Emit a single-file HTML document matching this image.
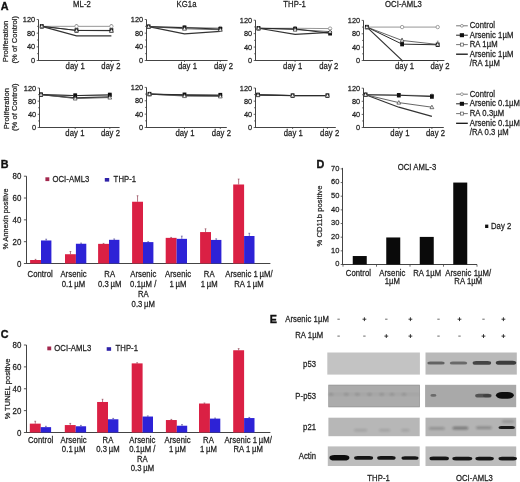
<!DOCTYPE html>
<html><head><meta charset="utf-8"><style>
html,body{margin:0;padding:0;background:#fff;width:520px;height:482px;overflow:hidden}
svg{display:block;will-change:transform}
text{font-family:"Liberation Sans", sans-serif;stroke:#2a2a2a;stroke-width:0.24px;paint-order:stroke;letter-spacing:0.08px}
</style></head><body>
<svg width="520" height="482" viewBox="0 0 520 482" font-family='"Liberation Sans", sans-serif'>
<defs><filter id="blur" x="-30%" y="-80%" width="160%" height="260%"><feGaussianBlur stdDeviation="0.55"/></filter><filter id="blur3" x="-30%" y="-100%" width="160%" height="300%"><feGaussianBlur stdDeviation="0.75"/></filter><filter id="blur2" x="-50%" y="-100%" width="200%" height="300%"><feGaussianBlur stdDeviation="1.0"/></filter></defs>
<rect width="520" height="482" fill="#fff"/>
<text transform="translate(0.80,9.50) scale(1,1.04)" font-size="10.8" text-anchor="start" font-weight="bold" fill="#111" style="stroke:#111;stroke-width:0.35px">A</text>
<text transform="translate(0.80,167.80) scale(1,1.04)" font-size="10.8" text-anchor="start" font-weight="bold" fill="#111" style="stroke:#111;stroke-width:0.35px">B</text>
<text transform="translate(0.80,338.00) scale(1,1.04)" font-size="10.8" text-anchor="start" font-weight="bold" fill="#111" style="stroke:#111;stroke-width:0.35px">C</text>
<text transform="translate(316.50,168.20) scale(1,1.04)" font-size="10.8" text-anchor="start" font-weight="bold" fill="#111" style="stroke:#111;stroke-width:0.35px">D</text>
<text transform="translate(269.80,322.80) scale(1,1.04)" font-size="10.8" text-anchor="start" font-weight="bold" fill="#111" style="stroke:#111;stroke-width:0.35px">E</text>
<line x1="38.50" y1="19.50" x2="38.50" y2="61.00" stroke="#444" stroke-width="1" />
<line x1="38.50" y1="60.50" x2="119.60" y2="60.50" stroke="#444" stroke-width="1" />
<line x1="36.70" y1="60.50" x2="38.50" y2="60.50" stroke="#444" stroke-width="0.8" />
<text transform="translate(35.30,63.10) scale(1,1.08)" font-size="7.4" text-anchor="end" font-weight="normal" fill="#1e1e1e" >0</text>
<line x1="37.00" y1="53.67" x2="38.50" y2="53.67" stroke="#444" stroke-width="0.7" />
<line x1="36.70" y1="46.83" x2="38.50" y2="46.83" stroke="#444" stroke-width="0.8" />
<text transform="translate(35.30,49.43) scale(1,1.08)" font-size="7.4" text-anchor="end" font-weight="normal" fill="#1e1e1e" >40</text>
<line x1="37.00" y1="40.00" x2="38.50" y2="40.00" stroke="#444" stroke-width="0.7" />
<line x1="36.70" y1="33.17" x2="38.50" y2="33.17" stroke="#444" stroke-width="0.8" />
<text transform="translate(35.30,35.77) scale(1,1.08)" font-size="7.4" text-anchor="end" font-weight="normal" fill="#1e1e1e" >80</text>
<line x1="37.00" y1="26.33" x2="38.50" y2="26.33" stroke="#444" stroke-width="0.7" />
<line x1="36.70" y1="19.50" x2="38.50" y2="19.50" stroke="#444" stroke-width="0.8" />
<text transform="translate(35.30,22.10) scale(1,1.08)" font-size="7.4" text-anchor="end" font-weight="normal" fill="#1e1e1e" >120</text>
<line x1="76.50" y1="60.50" x2="76.50" y2="62.00" stroke="#444" stroke-width="0.8" />
<line x1="111.40" y1="60.50" x2="111.40" y2="62.00" stroke="#444" stroke-width="0.8" />
<text transform="translate(75.20,69.10) scale(1,1.08)" font-size="7.7" text-anchor="middle" font-weight="normal" fill="#1e1e1e" >day 1</text>
<text transform="translate(110.90,69.10) scale(1,1.08)" font-size="7.7" text-anchor="middle" font-weight="normal" fill="#1e1e1e" >day 2</text>
<polyline points="41.80,26.33 76.50,26.33 111.40,26.33" fill="none" stroke="#8a8a8a" stroke-width="0.9"/>
<polyline points="41.80,26.33 76.50,35.90 111.40,35.90" fill="none" stroke="#333" stroke-width="1.2"/>
<polyline points="41.80,26.33 76.50,30.43 111.40,30.77" fill="none" stroke="#555" stroke-width="0.9"/>
<polyline points="41.80,26.33 76.50,30.43 111.40,30.43" fill="none" stroke="#2a2a2a" stroke-width="1.0"/>
<line x1="76.50" y1="26.33" x2="76.50" y2="24.63" stroke="#555" stroke-width="0.6" />
<line x1="75.60" y1="24.63" x2="77.40" y2="24.63" stroke="#555" stroke-width="0.5" />
<line x1="111.40" y1="26.33" x2="111.40" y2="24.63" stroke="#555" stroke-width="0.6" />
<line x1="110.50" y1="24.63" x2="112.30" y2="24.63" stroke="#555" stroke-width="0.5" />
<circle cx="41.80" cy="26.33" r="1.7" fill="#fff" stroke="#8a8a8a" stroke-width="0.8"/>
<circle cx="76.50" cy="26.33" r="1.7" fill="#fff" stroke="#8a8a8a" stroke-width="0.8"/>
<circle cx="111.40" cy="26.33" r="1.7" fill="#fff" stroke="#8a8a8a" stroke-width="0.8"/>
<rect x="39.90" y="24.13" width="3.8" height="4.4" fill="#111"/>
<rect x="74.60" y="28.23" width="3.8" height="4.4" fill="#111"/>
<rect x="109.50" y="28.23" width="3.8" height="4.4" fill="#111"/>
<polygon points="41.80,24.33 43.70,27.83 39.90,27.83" fill="#fff" stroke="#444" stroke-width="0.75"/>
<polygon points="76.50,28.43 78.40,31.93 74.60,31.93" fill="#fff" stroke="#444" stroke-width="0.75"/>
<polygon points="111.40,28.77 113.30,32.27 109.50,32.27" fill="#fff" stroke="#444" stroke-width="0.75"/>
<line x1="146.50" y1="19.50" x2="146.50" y2="61.00" stroke="#444" stroke-width="1" />
<line x1="146.50" y1="60.50" x2="227.60" y2="60.50" stroke="#444" stroke-width="1" />
<line x1="144.70" y1="60.50" x2="146.50" y2="60.50" stroke="#444" stroke-width="0.8" />
<text transform="translate(143.30,63.10) scale(1,1.08)" font-size="7.4" text-anchor="end" font-weight="normal" fill="#1e1e1e" >0</text>
<line x1="145.00" y1="53.67" x2="146.50" y2="53.67" stroke="#444" stroke-width="0.7" />
<line x1="144.70" y1="46.83" x2="146.50" y2="46.83" stroke="#444" stroke-width="0.8" />
<text transform="translate(143.30,49.43) scale(1,1.08)" font-size="7.4" text-anchor="end" font-weight="normal" fill="#1e1e1e" >40</text>
<line x1="145.00" y1="40.00" x2="146.50" y2="40.00" stroke="#444" stroke-width="0.7" />
<line x1="144.70" y1="33.17" x2="146.50" y2="33.17" stroke="#444" stroke-width="0.8" />
<text transform="translate(143.30,35.77) scale(1,1.08)" font-size="7.4" text-anchor="end" font-weight="normal" fill="#1e1e1e" >80</text>
<line x1="145.00" y1="26.33" x2="146.50" y2="26.33" stroke="#444" stroke-width="0.7" />
<line x1="144.70" y1="19.50" x2="146.50" y2="19.50" stroke="#444" stroke-width="0.8" />
<text transform="translate(143.30,22.10) scale(1,1.08)" font-size="7.4" text-anchor="end" font-weight="normal" fill="#1e1e1e" >120</text>
<line x1="184.50" y1="60.50" x2="184.50" y2="62.00" stroke="#444" stroke-width="0.8" />
<line x1="220.30" y1="60.50" x2="220.30" y2="62.00" stroke="#444" stroke-width="0.8" />
<text transform="translate(187.50,69.10) scale(1,1.08)" font-size="7.7" text-anchor="middle" font-weight="normal" fill="#1e1e1e" >day 1</text>
<text transform="translate(223.50,69.10) scale(1,1.08)" font-size="7.7" text-anchor="middle" font-weight="normal" fill="#1e1e1e" >day 2</text>
<polyline points="148.60,26.67 184.50,27.36 220.30,28.04" fill="none" stroke="#8a8a8a" stroke-width="0.9"/>
<polyline points="148.60,26.67 184.50,33.85 220.30,31.46" fill="none" stroke="#333" stroke-width="1.2"/>
<polyline points="148.60,26.67 184.50,28.72 220.30,29.75" fill="none" stroke="#555" stroke-width="0.9"/>
<polyline points="148.60,26.67 184.50,27.70 220.30,29.07" fill="none" stroke="#2a2a2a" stroke-width="1.0"/>
<circle cx="148.60" cy="26.67" r="1.7" fill="#fff" stroke="#8a8a8a" stroke-width="0.8"/>
<circle cx="184.50" cy="27.36" r="1.7" fill="#fff" stroke="#8a8a8a" stroke-width="0.8"/>
<circle cx="220.30" cy="28.04" r="1.7" fill="#fff" stroke="#8a8a8a" stroke-width="0.8"/>
<rect x="146.70" y="24.47" width="3.8" height="4.4" fill="#111"/>
<rect x="182.60" y="25.50" width="3.8" height="4.4" fill="#111"/>
<rect x="218.40" y="26.87" width="3.8" height="4.4" fill="#111"/>
<polygon points="148.60,24.67 150.50,28.17 146.70,28.17" fill="#fff" stroke="#444" stroke-width="0.75"/>
<polygon points="184.50,26.72 186.40,30.22 182.60,30.22" fill="#fff" stroke="#444" stroke-width="0.75"/>
<polygon points="220.30,27.75 222.20,31.25 218.40,31.25" fill="#fff" stroke="#444" stroke-width="0.75"/>
<line x1="255.50" y1="20.20" x2="255.50" y2="61.00" stroke="#444" stroke-width="1" />
<line x1="255.50" y1="60.50" x2="333.00" y2="60.50" stroke="#444" stroke-width="1" />
<line x1="253.70" y1="60.50" x2="255.50" y2="60.50" stroke="#444" stroke-width="0.8" />
<text transform="translate(252.30,63.10) scale(1,1.08)" font-size="7.4" text-anchor="end" font-weight="normal" fill="#1e1e1e" >0</text>
<line x1="254.00" y1="53.78" x2="255.50" y2="53.78" stroke="#444" stroke-width="0.7" />
<line x1="253.70" y1="47.07" x2="255.50" y2="47.07" stroke="#444" stroke-width="0.8" />
<text transform="translate(252.30,49.67) scale(1,1.08)" font-size="7.4" text-anchor="end" font-weight="normal" fill="#1e1e1e" >40</text>
<line x1="254.00" y1="40.35" x2="255.50" y2="40.35" stroke="#444" stroke-width="0.7" />
<line x1="253.70" y1="33.63" x2="255.50" y2="33.63" stroke="#444" stroke-width="0.8" />
<text transform="translate(252.30,36.23) scale(1,1.08)" font-size="7.4" text-anchor="end" font-weight="normal" fill="#1e1e1e" >80</text>
<line x1="254.00" y1="26.92" x2="255.50" y2="26.92" stroke="#444" stroke-width="0.7" />
<line x1="253.70" y1="20.20" x2="255.50" y2="20.20" stroke="#444" stroke-width="0.8" />
<text transform="translate(252.30,22.80) scale(1,1.08)" font-size="7.4" text-anchor="end" font-weight="normal" fill="#1e1e1e" >120</text>
<line x1="295.10" y1="60.50" x2="295.10" y2="62.00" stroke="#444" stroke-width="0.8" />
<line x1="330.10" y1="60.50" x2="330.10" y2="62.00" stroke="#444" stroke-width="0.8" />
<text transform="translate(292.70,69.10) scale(1,1.08)" font-size="7.7" text-anchor="middle" font-weight="normal" fill="#1e1e1e" >day 1</text>
<text transform="translate(328.80,69.10) scale(1,1.08)" font-size="7.7" text-anchor="middle" font-weight="normal" fill="#1e1e1e" >day 2</text>
<polyline points="258.50,28.26 295.10,28.26 330.10,28.60" fill="none" stroke="#8a8a8a" stroke-width="0.9"/>
<polyline points="258.50,28.26 295.10,34.30 330.10,32.29" fill="none" stroke="#333" stroke-width="1.2"/>
<polyline points="258.50,28.26 295.10,29.60 330.10,31.62" fill="none" stroke="#555" stroke-width="0.9"/>
<polyline points="258.50,28.26 295.10,28.93 330.10,33.30" fill="none" stroke="#2a2a2a" stroke-width="1.0"/>
<circle cx="258.50" cy="28.26" r="1.7" fill="#fff" stroke="#8a8a8a" stroke-width="0.8"/>
<circle cx="295.10" cy="28.26" r="1.7" fill="#fff" stroke="#8a8a8a" stroke-width="0.8"/>
<circle cx="330.10" cy="28.60" r="1.7" fill="#fff" stroke="#8a8a8a" stroke-width="0.8"/>
<rect x="256.60" y="26.06" width="3.8" height="4.4" fill="#111"/>
<rect x="293.20" y="26.73" width="3.8" height="4.4" fill="#111"/>
<rect x="328.20" y="31.10" width="3.8" height="4.4" fill="#111"/>
<polygon points="258.50,26.26 260.40,29.76 256.60,29.76" fill="#fff" stroke="#444" stroke-width="0.75"/>
<polygon points="295.10,27.60 297.00,31.10 293.20,31.10" fill="#fff" stroke="#444" stroke-width="0.75"/>
<polygon points="330.10,29.62 332.00,33.12 328.20,33.12" fill="#fff" stroke="#444" stroke-width="0.75"/>
<line x1="363.50" y1="20.40" x2="363.50" y2="61.00" stroke="#444" stroke-width="1" />
<line x1="363.50" y1="60.50" x2="444.40" y2="60.50" stroke="#444" stroke-width="1" />
<line x1="361.70" y1="60.50" x2="363.50" y2="60.50" stroke="#444" stroke-width="0.8" />
<text transform="translate(360.30,63.10) scale(1,1.08)" font-size="7.4" text-anchor="end" font-weight="normal" fill="#1e1e1e" >0</text>
<line x1="362.00" y1="53.82" x2="363.50" y2="53.82" stroke="#444" stroke-width="0.7" />
<line x1="361.70" y1="47.13" x2="363.50" y2="47.13" stroke="#444" stroke-width="0.8" />
<text transform="translate(360.30,49.73) scale(1,1.08)" font-size="7.4" text-anchor="end" font-weight="normal" fill="#1e1e1e" >40</text>
<line x1="362.00" y1="40.45" x2="363.50" y2="40.45" stroke="#444" stroke-width="0.7" />
<line x1="361.70" y1="33.77" x2="363.50" y2="33.77" stroke="#444" stroke-width="0.8" />
<text transform="translate(360.30,36.37) scale(1,1.08)" font-size="7.4" text-anchor="end" font-weight="normal" fill="#1e1e1e" >80</text>
<line x1="362.00" y1="27.08" x2="363.50" y2="27.08" stroke="#444" stroke-width="0.7" />
<line x1="361.70" y1="20.40" x2="363.50" y2="20.40" stroke="#444" stroke-width="0.8" />
<text transform="translate(360.30,23.00) scale(1,1.08)" font-size="7.4" text-anchor="end" font-weight="normal" fill="#1e1e1e" >120</text>
<line x1="402.10" y1="60.50" x2="402.10" y2="62.00" stroke="#444" stroke-width="0.8" />
<line x1="437.70" y1="60.50" x2="437.70" y2="62.00" stroke="#444" stroke-width="0.8" />
<text transform="translate(404.60,69.10) scale(1,1.08)" font-size="7.7" text-anchor="middle" font-weight="normal" fill="#1e1e1e" >day 1</text>
<text transform="translate(440.10,69.10) scale(1,1.08)" font-size="7.7" text-anchor="middle" font-weight="normal" fill="#1e1e1e" >day 2</text>
<polyline points="366.90,27.08 402.10,27.08 437.70,27.08" fill="none" stroke="#8a8a8a" stroke-width="0.9"/>
<polyline points="366.90,27.08 402.10,60.50 437.70,60.50" fill="none" stroke="#333" stroke-width="1.2"/>
<polyline points="366.90,27.08 402.10,40.45 437.70,44.46" fill="none" stroke="#555" stroke-width="0.9"/>
<polyline points="366.90,27.08 402.10,44.13 437.70,44.79" fill="none" stroke="#2a2a2a" stroke-width="1.0"/>
<line x1="437.70" y1="44.46" x2="437.70" y2="41.12" stroke="#555" stroke-width="0.6" />
<line x1="436.80" y1="41.12" x2="438.60" y2="41.12" stroke="#555" stroke-width="0.5" />
<line x1="402.10" y1="40.45" x2="402.10" y2="38.45" stroke="#555" stroke-width="0.6" />
<line x1="401.20" y1="38.45" x2="403.00" y2="38.45" stroke="#555" stroke-width="0.5" />
<circle cx="366.90" cy="27.08" r="1.7" fill="#fff" stroke="#8a8a8a" stroke-width="0.8"/>
<circle cx="402.10" cy="27.08" r="1.7" fill="#fff" stroke="#8a8a8a" stroke-width="0.8"/>
<circle cx="437.70" cy="27.08" r="1.7" fill="#fff" stroke="#8a8a8a" stroke-width="0.8"/>
<rect x="365.00" y="24.88" width="3.8" height="4.4" fill="#111"/>
<rect x="400.20" y="41.93" width="3.8" height="4.4" fill="#111"/>
<rect x="435.80" y="42.59" width="3.8" height="4.4" fill="#111"/>
<polygon points="366.90,25.08 368.80,28.58 365.00,28.58" fill="#fff" stroke="#444" stroke-width="0.75"/>
<polygon points="402.10,38.45 404.00,41.95 400.20,41.95" fill="#fff" stroke="#444" stroke-width="0.75"/>
<polygon points="437.70,42.46 439.60,45.96 435.80,45.96" fill="#fff" stroke="#444" stroke-width="0.75"/>
<line x1="39.50" y1="88.00" x2="39.50" y2="128.00" stroke="#444" stroke-width="1" />
<line x1="39.50" y1="127.50" x2="119.60" y2="127.50" stroke="#444" stroke-width="1" />
<line x1="37.70" y1="127.50" x2="39.50" y2="127.50" stroke="#444" stroke-width="0.8" />
<text transform="translate(36.30,130.10) scale(1,1.08)" font-size="7.4" text-anchor="end" font-weight="normal" fill="#1e1e1e" >0</text>
<line x1="38.00" y1="120.92" x2="39.50" y2="120.92" stroke="#444" stroke-width="0.7" />
<line x1="37.70" y1="114.33" x2="39.50" y2="114.33" stroke="#444" stroke-width="0.8" />
<text transform="translate(36.30,116.93) scale(1,1.08)" font-size="7.4" text-anchor="end" font-weight="normal" fill="#1e1e1e" >40</text>
<line x1="38.00" y1="107.75" x2="39.50" y2="107.75" stroke="#444" stroke-width="0.7" />
<line x1="37.70" y1="101.17" x2="39.50" y2="101.17" stroke="#444" stroke-width="0.8" />
<text transform="translate(36.30,103.77) scale(1,1.08)" font-size="7.4" text-anchor="end" font-weight="normal" fill="#1e1e1e" >80</text>
<line x1="38.00" y1="94.58" x2="39.50" y2="94.58" stroke="#444" stroke-width="0.7" />
<line x1="37.70" y1="88.00" x2="39.50" y2="88.00" stroke="#444" stroke-width="0.8" />
<text transform="translate(36.30,90.60) scale(1,1.08)" font-size="7.4" text-anchor="end" font-weight="normal" fill="#1e1e1e" >120</text>
<line x1="75.20" y1="127.50" x2="75.20" y2="129.00" stroke="#444" stroke-width="0.8" />
<line x1="109.80" y1="127.50" x2="109.80" y2="129.00" stroke="#444" stroke-width="0.8" />
<text transform="translate(74.90,136.10) scale(1,1.08)" font-size="7.7" text-anchor="middle" font-weight="normal" fill="#1e1e1e" >day 1</text>
<text transform="translate(110.50,136.10) scale(1,1.08)" font-size="7.7" text-anchor="middle" font-weight="normal" fill="#1e1e1e" >day 2</text>
<polyline points="41.00,94.58 75.20,95.57 109.80,94.91" fill="none" stroke="#8a8a8a" stroke-width="0.9"/>
<polyline points="41.00,94.58 75.20,97.88 109.80,96.89" fill="none" stroke="#333" stroke-width="1.2"/>
<polyline points="41.00,94.58 75.20,98.53 109.80,97.55" fill="none" stroke="#555" stroke-width="0.9"/>
<polyline points="41.00,94.58 75.20,95.57 109.80,94.91" fill="none" stroke="#2a2a2a" stroke-width="1.0"/>
<circle cx="41.00" cy="94.58" r="1.7" fill="#fff" stroke="#8a8a8a" stroke-width="0.8"/>
<circle cx="75.20" cy="95.57" r="1.7" fill="#fff" stroke="#8a8a8a" stroke-width="0.8"/>
<circle cx="109.80" cy="94.91" r="1.7" fill="#fff" stroke="#8a8a8a" stroke-width="0.8"/>
<rect x="39.10" y="92.38" width="3.8" height="4.4" fill="#111"/>
<rect x="73.30" y="93.37" width="3.8" height="4.4" fill="#111"/>
<rect x="107.90" y="92.71" width="3.8" height="4.4" fill="#111"/>
<polygon points="41.00,92.58 42.90,96.08 39.10,96.08" fill="#fff" stroke="#444" stroke-width="0.75"/>
<polygon points="75.20,96.53 77.10,100.03 73.30,100.03" fill="#fff" stroke="#444" stroke-width="0.75"/>
<polygon points="109.80,95.55 111.70,99.05 107.90,99.05" fill="#fff" stroke="#444" stroke-width="0.75"/>
<line x1="146.50" y1="87.40" x2="146.50" y2="128.00" stroke="#444" stroke-width="1" />
<line x1="146.50" y1="127.50" x2="226.80" y2="127.50" stroke="#444" stroke-width="1" />
<line x1="144.70" y1="127.50" x2="146.50" y2="127.50" stroke="#444" stroke-width="0.8" />
<text transform="translate(143.30,130.10) scale(1,1.08)" font-size="7.4" text-anchor="end" font-weight="normal" fill="#1e1e1e" >0</text>
<line x1="145.00" y1="120.82" x2="146.50" y2="120.82" stroke="#444" stroke-width="0.7" />
<line x1="144.70" y1="114.13" x2="146.50" y2="114.13" stroke="#444" stroke-width="0.8" />
<text transform="translate(143.30,116.73) scale(1,1.08)" font-size="7.4" text-anchor="end" font-weight="normal" fill="#1e1e1e" >40</text>
<line x1="145.00" y1="107.45" x2="146.50" y2="107.45" stroke="#444" stroke-width="0.7" />
<line x1="144.70" y1="100.77" x2="146.50" y2="100.77" stroke="#444" stroke-width="0.8" />
<text transform="translate(143.30,103.37) scale(1,1.08)" font-size="7.4" text-anchor="end" font-weight="normal" fill="#1e1e1e" >80</text>
<line x1="145.00" y1="94.08" x2="146.50" y2="94.08" stroke="#444" stroke-width="0.7" />
<line x1="144.70" y1="87.40" x2="146.50" y2="87.40" stroke="#444" stroke-width="0.8" />
<text transform="translate(143.30,90.00) scale(1,1.08)" font-size="7.4" text-anchor="end" font-weight="normal" fill="#1e1e1e" >120</text>
<line x1="184.50" y1="127.50" x2="184.50" y2="129.00" stroke="#444" stroke-width="0.8" />
<line x1="220.30" y1="127.50" x2="220.30" y2="129.00" stroke="#444" stroke-width="0.8" />
<text transform="translate(185.00,136.10) scale(1,1.08)" font-size="7.7" text-anchor="middle" font-weight="normal" fill="#1e1e1e" >day 1</text>
<text transform="translate(221.40,136.10) scale(1,1.08)" font-size="7.7" text-anchor="middle" font-weight="normal" fill="#1e1e1e" >day 2</text>
<polyline points="149.50,94.08 184.50,95.09 220.30,95.42" fill="none" stroke="#8a8a8a" stroke-width="0.9"/>
<polyline points="149.50,94.08 184.50,95.42 220.30,95.75" fill="none" stroke="#333" stroke-width="1.2"/>
<polyline points="149.50,94.08 184.50,96.09 220.30,96.42" fill="none" stroke="#555" stroke-width="0.9"/>
<polyline points="149.50,94.08 184.50,94.75 220.30,95.09" fill="none" stroke="#2a2a2a" stroke-width="1.0"/>
<circle cx="149.50" cy="94.08" r="1.7" fill="#fff" stroke="#8a8a8a" stroke-width="0.8"/>
<circle cx="184.50" cy="95.09" r="1.7" fill="#fff" stroke="#8a8a8a" stroke-width="0.8"/>
<circle cx="220.30" cy="95.42" r="1.7" fill="#fff" stroke="#8a8a8a" stroke-width="0.8"/>
<rect x="147.60" y="91.88" width="3.8" height="4.4" fill="#111"/>
<rect x="182.60" y="92.55" width="3.8" height="4.4" fill="#111"/>
<rect x="218.40" y="92.89" width="3.8" height="4.4" fill="#111"/>
<polygon points="149.50,92.08 151.40,95.58 147.60,95.58" fill="#fff" stroke="#444" stroke-width="0.75"/>
<polygon points="184.50,94.09 186.40,97.59 182.60,97.59" fill="#fff" stroke="#444" stroke-width="0.75"/>
<polygon points="220.30,94.42 222.20,97.92 218.40,97.92" fill="#fff" stroke="#444" stroke-width="0.75"/>
<line x1="255.50" y1="88.00" x2="255.50" y2="128.00" stroke="#444" stroke-width="1" />
<line x1="255.50" y1="127.50" x2="335.80" y2="127.50" stroke="#444" stroke-width="1" />
<line x1="253.70" y1="127.50" x2="255.50" y2="127.50" stroke="#444" stroke-width="0.8" />
<text transform="translate(252.30,130.10) scale(1,1.08)" font-size="7.4" text-anchor="end" font-weight="normal" fill="#1e1e1e" >0</text>
<line x1="254.00" y1="120.92" x2="255.50" y2="120.92" stroke="#444" stroke-width="0.7" />
<line x1="253.70" y1="114.33" x2="255.50" y2="114.33" stroke="#444" stroke-width="0.8" />
<text transform="translate(252.30,116.93) scale(1,1.08)" font-size="7.4" text-anchor="end" font-weight="normal" fill="#1e1e1e" >40</text>
<line x1="254.00" y1="107.75" x2="255.50" y2="107.75" stroke="#444" stroke-width="0.7" />
<line x1="253.70" y1="101.17" x2="255.50" y2="101.17" stroke="#444" stroke-width="0.8" />
<text transform="translate(252.30,103.77) scale(1,1.08)" font-size="7.4" text-anchor="end" font-weight="normal" fill="#1e1e1e" >80</text>
<line x1="254.00" y1="94.58" x2="255.50" y2="94.58" stroke="#444" stroke-width="0.7" />
<line x1="253.70" y1="88.00" x2="255.50" y2="88.00" stroke="#444" stroke-width="0.8" />
<text transform="translate(252.30,90.60) scale(1,1.08)" font-size="7.4" text-anchor="end" font-weight="normal" fill="#1e1e1e" >120</text>
<line x1="292.60" y1="127.50" x2="292.60" y2="129.00" stroke="#444" stroke-width="0.8" />
<line x1="327.40" y1="127.50" x2="327.40" y2="129.00" stroke="#444" stroke-width="0.8" />
<text transform="translate(293.30,136.10) scale(1,1.08)" font-size="7.7" text-anchor="middle" font-weight="normal" fill="#1e1e1e" >day 1</text>
<text transform="translate(329.70,136.10) scale(1,1.08)" font-size="7.7" text-anchor="middle" font-weight="normal" fill="#1e1e1e" >day 2</text>
<polyline points="258.00,94.91 292.60,95.57 327.40,95.57" fill="none" stroke="#8a8a8a" stroke-width="0.9"/>
<polyline points="258.00,94.91 292.60,95.57 327.40,95.57" fill="none" stroke="#333" stroke-width="1.2"/>
<polyline points="258.00,94.91 292.60,95.57 327.40,95.57" fill="none" stroke="#555" stroke-width="0.9"/>
<polyline points="258.00,94.91 292.60,95.57 327.40,95.57" fill="none" stroke="#2a2a2a" stroke-width="1.0"/>
<circle cx="258.00" cy="94.91" r="1.7" fill="#fff" stroke="#8a8a8a" stroke-width="0.8"/>
<circle cx="292.60" cy="95.57" r="1.7" fill="#fff" stroke="#8a8a8a" stroke-width="0.8"/>
<circle cx="327.40" cy="95.57" r="1.7" fill="#fff" stroke="#8a8a8a" stroke-width="0.8"/>
<rect x="256.10" y="92.71" width="3.8" height="4.4" fill="#111"/>
<rect x="290.70" y="93.37" width="3.8" height="4.4" fill="#111"/>
<rect x="325.50" y="93.37" width="3.8" height="4.4" fill="#111"/>
<polygon points="258.00,92.91 259.90,96.41 256.10,96.41" fill="#fff" stroke="#444" stroke-width="0.75"/>
<polygon points="292.60,93.57 294.50,97.07 290.70,97.07" fill="#fff" stroke="#444" stroke-width="0.75"/>
<polygon points="327.40,93.57 329.30,97.07 325.50,97.07" fill="#fff" stroke="#444" stroke-width="0.75"/>
<line x1="363.50" y1="88.20" x2="363.50" y2="128.00" stroke="#444" stroke-width="1" />
<line x1="363.50" y1="127.50" x2="443.80" y2="127.50" stroke="#444" stroke-width="1" />
<line x1="361.70" y1="127.50" x2="363.50" y2="127.50" stroke="#444" stroke-width="0.8" />
<text transform="translate(360.30,130.10) scale(1,1.08)" font-size="7.4" text-anchor="end" font-weight="normal" fill="#1e1e1e" >0</text>
<line x1="362.00" y1="120.95" x2="363.50" y2="120.95" stroke="#444" stroke-width="0.7" />
<line x1="361.70" y1="114.40" x2="363.50" y2="114.40" stroke="#444" stroke-width="0.8" />
<text transform="translate(360.30,117.00) scale(1,1.08)" font-size="7.4" text-anchor="end" font-weight="normal" fill="#1e1e1e" >40</text>
<line x1="362.00" y1="107.85" x2="363.50" y2="107.85" stroke="#444" stroke-width="0.7" />
<line x1="361.70" y1="101.30" x2="363.50" y2="101.30" stroke="#444" stroke-width="0.8" />
<text transform="translate(360.30,103.90) scale(1,1.08)" font-size="7.4" text-anchor="end" font-weight="normal" fill="#1e1e1e" >80</text>
<line x1="362.00" y1="94.75" x2="363.50" y2="94.75" stroke="#444" stroke-width="0.7" />
<line x1="361.70" y1="88.20" x2="363.50" y2="88.20" stroke="#444" stroke-width="0.8" />
<text transform="translate(360.30,90.80) scale(1,1.08)" font-size="7.4" text-anchor="end" font-weight="normal" fill="#1e1e1e" >120</text>
<line x1="398.80" y1="127.50" x2="398.80" y2="129.00" stroke="#444" stroke-width="0.8" />
<line x1="431.90" y1="127.50" x2="431.90" y2="129.00" stroke="#444" stroke-width="0.8" />
<text transform="translate(399.90,136.10) scale(1,1.08)" font-size="7.7" text-anchor="middle" font-weight="normal" fill="#1e1e1e" >day 1</text>
<text transform="translate(435.60,136.10) scale(1,1.08)" font-size="7.7" text-anchor="middle" font-weight="normal" fill="#1e1e1e" >day 2</text>
<polyline points="365.60,94.75 398.80,95.08 431.90,95.73" fill="none" stroke="#8a8a8a" stroke-width="0.9"/>
<polyline points="365.60,94.75 398.80,107.20 431.90,116.37" fill="none" stroke="#333" stroke-width="1.2"/>
<polyline points="365.60,94.75 398.80,102.61 431.90,107.20" fill="none" stroke="#555" stroke-width="0.9"/>
<polyline points="365.60,94.75 398.80,95.24 431.90,96.55" fill="none" stroke="#2a2a2a" stroke-width="1.0"/>
<line x1="431.90" y1="95.73" x2="431.90" y2="94.42" stroke="#555" stroke-width="0.6" />
<line x1="431.00" y1="94.42" x2="432.80" y2="94.42" stroke="#555" stroke-width="0.5" />
<circle cx="365.60" cy="94.75" r="1.7" fill="#fff" stroke="#8a8a8a" stroke-width="0.8"/>
<circle cx="398.80" cy="95.08" r="1.7" fill="#fff" stroke="#8a8a8a" stroke-width="0.8"/>
<circle cx="431.90" cy="95.73" r="1.7" fill="#fff" stroke="#8a8a8a" stroke-width="0.8"/>
<rect x="363.70" y="92.55" width="3.8" height="4.4" fill="#111"/>
<rect x="396.90" y="93.04" width="3.8" height="4.4" fill="#111"/>
<rect x="430.00" y="94.35" width="3.8" height="4.4" fill="#111"/>
<polygon points="365.60,92.75 367.50,96.25 363.70,96.25" fill="#fff" stroke="#444" stroke-width="0.75"/>
<polygon points="398.80,100.61 400.70,104.11 396.90,104.11" fill="#fff" stroke="#444" stroke-width="0.75"/>
<polygon points="431.90,105.20 433.80,108.70 430.00,108.70" fill="#fff" stroke="#444" stroke-width="0.75"/>
<text transform="translate(8.40,41.40) rotate(-90) scale(1,0.97)" font-size="7.6" text-anchor="middle" fill="#1e1e1e">Proliferation</text>
<text transform="translate(17.00,39.70) rotate(-90) scale(1,0.97)" font-size="7.55" text-anchor="middle" fill="#1e1e1e">(% of Control)</text>
<text transform="translate(8.50,108.60) rotate(-90) scale(1,0.97)" font-size="7.6" text-anchor="middle" fill="#1e1e1e">Proliferation</text>
<text transform="translate(17.30,107.30) rotate(-90) scale(1,0.97)" font-size="7.55" text-anchor="middle" fill="#1e1e1e">(% of Control)</text>
<text transform="translate(82.00,7.00) scale(1,1.08)" font-size="7.7" text-anchor="middle" font-weight="normal" fill="#1e1e1e" >ML-2</text>
<text transform="translate(186.50,7.00) scale(1,1.08)" font-size="7.7" text-anchor="middle" font-weight="normal" fill="#1e1e1e" >KG1a</text>
<text transform="translate(294.60,7.00) scale(1,1.08)" font-size="7.7" text-anchor="middle" font-weight="normal" fill="#1e1e1e" >THP-1</text>
<text transform="translate(403.50,7.00) scale(1,1.08)" font-size="7.7" text-anchor="middle" font-weight="normal" fill="#1e1e1e" >OCI-AML3</text>
<line x1="456.10" y1="25.80" x2="467.80" y2="25.80" stroke="#666" stroke-width="0.9" />
<circle cx="461.9" cy="25.80" r="1.4" fill="#fff" stroke="#777" stroke-width="0.7"/>
<text transform="translate(469.70,28.10) scale(1,1.08)" font-size="7.7" text-anchor="start" font-weight="normal" fill="#1e1e1e" >Control</text>
<line x1="456.10" y1="35.20" x2="467.80" y2="35.20" stroke="#222" stroke-width="1.0" />
<rect x="459.80" y="33.20" width="4.20" height="4.00" fill="#111" />
<text transform="translate(469.70,37.50) scale(1,1.08)" font-size="7.7" text-anchor="start" font-weight="normal" fill="#1e1e1e" >Arsenic 1µM</text>
<line x1="456.10" y1="44.60" x2="467.80" y2="44.60" stroke="#666" stroke-width="0.9" />
<rect x="460.4" y="43.10" width="3.0" height="3.0" fill="#fff" stroke="#555" stroke-width="0.7"/>
<text transform="translate(469.70,46.90) scale(1,1.08)" font-size="7.7" text-anchor="start" font-weight="normal" fill="#1e1e1e" >RA 1µM</text>
<line x1="456.10" y1="54.20" x2="467.80" y2="54.20" stroke="#111" stroke-width="1.3" />
<text transform="translate(469.70,56.50) scale(1,1.08)" font-size="7.7" text-anchor="start" font-weight="normal" fill="#1e1e1e" >Arsenic 1µM</text>
<text transform="translate(469.70,65.90) scale(1,1.08)" font-size="7.7" text-anchor="start" font-weight="normal" fill="#1e1e1e" >/RA 1µM</text>
<line x1="456.10" y1="94.20" x2="467.80" y2="94.20" stroke="#666" stroke-width="0.9" />
<circle cx="461.9" cy="94.20" r="1.4" fill="#fff" stroke="#777" stroke-width="0.7"/>
<text transform="translate(469.70,96.50) scale(1,1.08)" font-size="7.7" text-anchor="start" font-weight="normal" fill="#1e1e1e" >Control</text>
<line x1="456.10" y1="103.80" x2="467.80" y2="103.80" stroke="#222" stroke-width="1.0" />
<rect x="459.80" y="101.80" width="4.20" height="4.00" fill="#111" />
<text transform="translate(469.70,106.10) scale(1,1.08)" font-size="7.7" text-anchor="start" font-weight="normal" fill="#1e1e1e" >Arsenic 0.1µM</text>
<line x1="456.10" y1="113.60" x2="467.80" y2="113.60" stroke="#666" stroke-width="0.9" />
<rect x="460.4" y="112.10" width="3.0" height="3.0" fill="#fff" stroke="#555" stroke-width="0.7"/>
<text transform="translate(469.70,115.90) scale(1,1.08)" font-size="7.7" text-anchor="start" font-weight="normal" fill="#1e1e1e" >RA 0.3µM</text>
<line x1="456.10" y1="123.30" x2="467.80" y2="123.30" stroke="#111" stroke-width="1.3" />
<text transform="translate(469.70,125.60) scale(1,1.08)" font-size="7.7" text-anchor="start" font-weight="normal" fill="#1e1e1e" >Arsenic 0.1µM</text>
<text transform="translate(469.70,135.00) scale(1,1.08)" font-size="7.7" text-anchor="start" font-weight="normal" fill="#1e1e1e" >/RA 0.3 µM</text>
<line x1="26.50" y1="176.20" x2="26.50" y2="264.00" stroke="#444" stroke-width="1" />
<line x1="26.50" y1="263.50" x2="270.40" y2="263.50" stroke="#444" stroke-width="1" />
<line x1="23.90" y1="263.50" x2="26.50" y2="263.50" stroke="#444" stroke-width="0.9" />
<text transform="translate(21.50,266.60) scale(1,1.08)" font-size="7.9" text-anchor="end" font-weight="normal" fill="#1e1e1e" >0</text>
<line x1="23.90" y1="241.68" x2="26.50" y2="241.68" stroke="#444" stroke-width="0.9" />
<text transform="translate(21.50,244.78) scale(1,1.08)" font-size="7.9" text-anchor="end" font-weight="normal" fill="#1e1e1e" >20</text>
<line x1="23.90" y1="219.85" x2="26.50" y2="219.85" stroke="#444" stroke-width="0.9" />
<text transform="translate(21.50,222.95) scale(1,1.08)" font-size="7.9" text-anchor="end" font-weight="normal" fill="#1e1e1e" >40</text>
<line x1="23.90" y1="198.02" x2="26.50" y2="198.02" stroke="#444" stroke-width="0.9" />
<text transform="translate(21.50,201.12) scale(1,1.08)" font-size="7.9" text-anchor="end" font-weight="normal" fill="#1e1e1e" >60</text>
<line x1="23.90" y1="176.20" x2="26.50" y2="176.20" stroke="#444" stroke-width="0.9" />
<text transform="translate(21.50,179.30) scale(1,1.08)" font-size="7.9" text-anchor="end" font-weight="normal" fill="#1e1e1e" >80</text>
<rect x="30.10" y="260.01" width="10.90" height="3.49" fill="#da2044" />
<line x1="35.55" y1="260.01" x2="35.55" y2="259.35" stroke="#7a1a30" stroke-width="0.6" />
<line x1="34.65" y1="259.35" x2="36.45" y2="259.35" stroke="#7a1a30" stroke-width="0.5" />
<rect x="41.00" y="240.47" width="10.40" height="23.03" fill="#2d22d6" />
<line x1="46.20" y1="240.47" x2="46.20" y2="239.17" stroke="#2a2080" stroke-width="0.6" />
<line x1="45.30" y1="239.17" x2="47.10" y2="239.17" stroke="#2a2080" stroke-width="0.5" />
<rect x="65.00" y="254.22" width="10.90" height="9.28" fill="#da2044" />
<line x1="70.45" y1="254.22" x2="70.45" y2="251.50" stroke="#7a1a30" stroke-width="0.6" />
<line x1="69.55" y1="251.50" x2="71.35" y2="251.50" stroke="#7a1a30" stroke-width="0.5" />
<rect x="75.90" y="243.75" width="10.40" height="19.75" fill="#2d22d6" />
<line x1="81.10" y1="243.75" x2="81.10" y2="243.09" stroke="#2a2080" stroke-width="0.6" />
<line x1="80.20" y1="243.09" x2="82.00" y2="243.09" stroke="#2a2080" stroke-width="0.5" />
<rect x="98.10" y="243.86" width="10.90" height="19.64" fill="#da2044" />
<line x1="103.55" y1="243.86" x2="103.55" y2="243.42" stroke="#7a1a30" stroke-width="0.6" />
<line x1="102.65" y1="243.42" x2="104.45" y2="243.42" stroke="#7a1a30" stroke-width="0.5" />
<rect x="109.00" y="239.82" width="10.40" height="23.68" fill="#2d22d6" />
<line x1="114.20" y1="239.82" x2="114.20" y2="238.95" stroke="#2a2080" stroke-width="0.6" />
<line x1="113.30" y1="238.95" x2="115.10" y2="238.95" stroke="#2a2080" stroke-width="0.5" />
<rect x="132.10" y="201.74" width="10.90" height="61.76" fill="#da2044" />
<line x1="137.55" y1="201.74" x2="137.55" y2="195.73" stroke="#7a1a30" stroke-width="0.6" />
<line x1="136.65" y1="195.73" x2="138.45" y2="195.73" stroke="#7a1a30" stroke-width="0.5" />
<rect x="143.00" y="242.11" width="10.40" height="21.39" fill="#2d22d6" />
<line x1="148.20" y1="242.11" x2="148.20" y2="241.68" stroke="#2a2080" stroke-width="0.6" />
<line x1="147.30" y1="241.68" x2="149.10" y2="241.68" stroke="#2a2080" stroke-width="0.5" />
<rect x="165.70" y="237.86" width="10.90" height="25.64" fill="#da2044" />
<line x1="171.15" y1="237.86" x2="171.15" y2="237.42" stroke="#7a1a30" stroke-width="0.6" />
<line x1="170.25" y1="237.42" x2="172.05" y2="237.42" stroke="#7a1a30" stroke-width="0.5" />
<rect x="176.60" y="238.84" width="10.40" height="24.66" fill="#2d22d6" />
<line x1="181.80" y1="238.84" x2="181.80" y2="236.11" stroke="#2a2080" stroke-width="0.6" />
<line x1="180.90" y1="236.11" x2="182.70" y2="236.11" stroke="#2a2080" stroke-width="0.5" />
<rect x="200.10" y="232.07" width="10.90" height="31.43" fill="#da2044" />
<line x1="205.55" y1="232.07" x2="205.55" y2="228.80" stroke="#7a1a30" stroke-width="0.6" />
<line x1="204.65" y1="228.80" x2="206.45" y2="228.80" stroke="#7a1a30" stroke-width="0.5" />
<rect x="211.00" y="239.93" width="10.40" height="23.57" fill="#2d22d6" />
<line x1="216.20" y1="239.93" x2="216.20" y2="238.84" stroke="#2a2080" stroke-width="0.6" />
<line x1="215.30" y1="238.84" x2="217.10" y2="238.84" stroke="#2a2080" stroke-width="0.5" />
<rect x="233.20" y="184.49" width="10.90" height="79.01" fill="#da2044" />
<line x1="238.65" y1="184.49" x2="238.65" y2="179.04" stroke="#7a1a30" stroke-width="0.6" />
<line x1="237.75" y1="179.04" x2="239.55" y2="179.04" stroke="#7a1a30" stroke-width="0.5" />
<rect x="244.10" y="236.00" width="10.40" height="27.50" fill="#2d22d6" />
<line x1="249.30" y1="236.00" x2="249.30" y2="233.27" stroke="#2a2080" stroke-width="0.6" />
<line x1="248.40" y1="233.27" x2="250.20" y2="233.27" stroke="#2a2080" stroke-width="0.5" />
<text transform="translate(8.40,219.00) rotate(-90) scale(1,1.05)" font-size="7.1" text-anchor="middle" fill="#1e1e1e">% Annexin positive</text>
<rect x="45.40" y="177.30" width="3.90" height="3.80" fill="#a3284e" />
<text transform="translate(52.40,182.20) scale(1,1.08)" font-size="7.7" text-anchor="start" font-weight="normal" fill="#1e1e1e" >OCI-AML3</text>
<rect x="104.80" y="178.00" width="4.40" height="3.60" fill="#2f22a8" />
<text transform="translate(113.60,182.20) scale(1,1.08)" font-size="7.7" text-anchor="start" font-weight="normal" fill="#1e1e1e" >THP-1</text>
<text transform="translate(40.20,277.40) scale(1,1.08)" font-size="7.7" text-anchor="middle" font-weight="normal" fill="#1e1e1e" >Control</text>
<text transform="translate(73.50,277.40) scale(1,1.08)" font-size="7.7" text-anchor="middle" font-weight="normal" fill="#1e1e1e" >Arsenic</text>
<text transform="translate(73.50,287.10) scale(1,1.08)" font-size="7.7" text-anchor="middle" font-weight="normal" fill="#1e1e1e" >0.1 µM</text>
<text transform="translate(109.70,277.40) scale(1,1.08)" font-size="7.7" text-anchor="middle" font-weight="normal" fill="#1e1e1e" >RA</text>
<text transform="translate(109.70,287.10) scale(1,1.08)" font-size="7.7" text-anchor="middle" font-weight="normal" fill="#1e1e1e" >0.3 µM</text>
<text transform="translate(143.30,277.40) scale(1,1.08)" font-size="7.7" text-anchor="middle" font-weight="normal" fill="#1e1e1e" >Arsenic</text>
<text transform="translate(143.30,287.10) scale(1,1.08)" font-size="7.7" text-anchor="middle" font-weight="normal" fill="#1e1e1e" >0.1µM /</text>
<text transform="translate(143.30,296.80) scale(1,1.08)" font-size="7.7" text-anchor="middle" font-weight="normal" fill="#1e1e1e" >RA</text>
<text transform="translate(143.30,306.50) scale(1,1.08)" font-size="7.7" text-anchor="middle" font-weight="normal" fill="#1e1e1e" >0.3 µM</text>
<text transform="translate(178.10,277.40) scale(1,1.08)" font-size="7.7" text-anchor="middle" font-weight="normal" fill="#1e1e1e" >Arsenic</text>
<text transform="translate(178.10,287.10) scale(1,1.08)" font-size="7.7" text-anchor="middle" font-weight="normal" fill="#1e1e1e" >1 µM</text>
<text transform="translate(209.20,277.40) scale(1,1.08)" font-size="7.7" text-anchor="middle" font-weight="normal" fill="#1e1e1e" >RA</text>
<text transform="translate(209.20,287.10) scale(1,1.08)" font-size="7.7" text-anchor="middle" font-weight="normal" fill="#1e1e1e" >1 µM</text>
<text transform="translate(249.00,277.40) scale(1,1.08)" font-size="7.7" text-anchor="middle" font-weight="normal" fill="#1e1e1e" >Arsenic 1 µM/</text>
<text transform="translate(249.00,287.10) scale(1,1.08)" font-size="7.7" text-anchor="middle" font-weight="normal" fill="#1e1e1e" >RA 1 µM</text>
<line x1="26.50" y1="345.00" x2="26.50" y2="433.00" stroke="#444" stroke-width="1" />
<line x1="26.50" y1="432.50" x2="270.40" y2="432.50" stroke="#444" stroke-width="1" />
<line x1="23.90" y1="432.50" x2="26.50" y2="432.50" stroke="#444" stroke-width="0.9" />
<text transform="translate(21.50,435.60) scale(1,1.08)" font-size="7.9" text-anchor="end" font-weight="normal" fill="#1e1e1e" >0</text>
<line x1="23.90" y1="410.62" x2="26.50" y2="410.62" stroke="#444" stroke-width="0.9" />
<text transform="translate(21.50,413.73) scale(1,1.08)" font-size="7.9" text-anchor="end" font-weight="normal" fill="#1e1e1e" >20</text>
<line x1="23.90" y1="388.75" x2="26.50" y2="388.75" stroke="#444" stroke-width="0.9" />
<text transform="translate(21.50,391.85) scale(1,1.08)" font-size="7.9" text-anchor="end" font-weight="normal" fill="#1e1e1e" >40</text>
<line x1="23.90" y1="366.88" x2="26.50" y2="366.88" stroke="#444" stroke-width="0.9" />
<text transform="translate(21.50,369.98) scale(1,1.08)" font-size="7.9" text-anchor="end" font-weight="normal" fill="#1e1e1e" >60</text>
<line x1="23.90" y1="345.00" x2="26.50" y2="345.00" stroke="#444" stroke-width="0.9" />
<text transform="translate(21.50,348.10) scale(1,1.08)" font-size="7.9" text-anchor="end" font-weight="normal" fill="#1e1e1e" >80</text>
<rect x="29.80" y="423.64" width="10.90" height="8.86" fill="#da2044" />
<line x1="35.25" y1="423.64" x2="35.25" y2="421.23" stroke="#7a1a30" stroke-width="0.6" />
<line x1="34.35" y1="421.23" x2="36.15" y2="421.23" stroke="#7a1a30" stroke-width="0.5" />
<rect x="40.70" y="427.14" width="10.40" height="5.36" fill="#2d22d6" />
<line x1="45.90" y1="427.14" x2="45.90" y2="426.27" stroke="#2a2080" stroke-width="0.6" />
<line x1="45.00" y1="426.27" x2="46.80" y2="426.27" stroke="#2a2080" stroke-width="0.5" />
<rect x="64.80" y="425.06" width="10.90" height="7.44" fill="#da2044" />
<line x1="70.25" y1="425.06" x2="70.25" y2="423.42" stroke="#7a1a30" stroke-width="0.6" />
<line x1="69.35" y1="423.42" x2="71.15" y2="423.42" stroke="#7a1a30" stroke-width="0.5" />
<rect x="75.70" y="426.27" width="10.40" height="6.23" fill="#2d22d6" />
<line x1="80.90" y1="426.27" x2="80.90" y2="425.39" stroke="#2a2080" stroke-width="0.6" />
<line x1="80.00" y1="425.39" x2="81.80" y2="425.39" stroke="#2a2080" stroke-width="0.5" />
<rect x="97.10" y="401.98" width="10.90" height="30.52" fill="#da2044" />
<line x1="102.55" y1="401.98" x2="102.55" y2="399.25" stroke="#7a1a30" stroke-width="0.6" />
<line x1="101.65" y1="399.25" x2="103.45" y2="399.25" stroke="#7a1a30" stroke-width="0.5" />
<rect x="108.00" y="419.27" width="10.40" height="13.23" fill="#2d22d6" />
<line x1="113.20" y1="419.27" x2="113.20" y2="418.39" stroke="#2a2080" stroke-width="0.6" />
<line x1="112.30" y1="418.39" x2="114.10" y2="418.39" stroke="#2a2080" stroke-width="0.5" />
<rect x="131.70" y="363.38" width="10.90" height="69.12" fill="#da2044" />
<line x1="137.15" y1="363.38" x2="137.15" y2="362.72" stroke="#7a1a30" stroke-width="0.6" />
<line x1="136.25" y1="362.72" x2="138.05" y2="362.72" stroke="#7a1a30" stroke-width="0.5" />
<rect x="142.60" y="416.53" width="10.40" height="15.97" fill="#2d22d6" />
<line x1="147.80" y1="416.53" x2="147.80" y2="415.88" stroke="#2a2080" stroke-width="0.6" />
<line x1="146.90" y1="415.88" x2="148.70" y2="415.88" stroke="#2a2080" stroke-width="0.5" />
<rect x="165.90" y="420.03" width="10.90" height="12.47" fill="#da2044" />
<line x1="171.35" y1="420.03" x2="171.35" y2="419.38" stroke="#7a1a30" stroke-width="0.6" />
<line x1="170.45" y1="419.38" x2="172.25" y2="419.38" stroke="#7a1a30" stroke-width="0.5" />
<rect x="176.80" y="425.72" width="10.40" height="6.78" fill="#2d22d6" />
<line x1="182.00" y1="425.72" x2="182.00" y2="424.62" stroke="#2a2080" stroke-width="0.6" />
<line x1="181.10" y1="424.62" x2="182.90" y2="424.62" stroke="#2a2080" stroke-width="0.5" />
<rect x="199.00" y="403.52" width="10.90" height="28.98" fill="#da2044" />
<line x1="204.45" y1="403.52" x2="204.45" y2="402.97" stroke="#7a1a30" stroke-width="0.6" />
<line x1="203.55" y1="402.97" x2="205.35" y2="402.97" stroke="#7a1a30" stroke-width="0.5" />
<rect x="209.90" y="418.61" width="10.40" height="13.89" fill="#2d22d6" />
<line x1="215.10" y1="418.61" x2="215.10" y2="418.06" stroke="#2a2080" stroke-width="0.6" />
<line x1="214.20" y1="418.06" x2="216.00" y2="418.06" stroke="#2a2080" stroke-width="0.5" />
<rect x="233.20" y="350.25" width="10.90" height="82.25" fill="#da2044" />
<line x1="238.65" y1="350.25" x2="238.65" y2="348.61" stroke="#7a1a30" stroke-width="0.6" />
<line x1="237.75" y1="348.61" x2="239.55" y2="348.61" stroke="#7a1a30" stroke-width="0.5" />
<rect x="244.10" y="418.06" width="10.40" height="14.44" fill="#2d22d6" />
<line x1="249.30" y1="418.06" x2="249.30" y2="417.41" stroke="#2a2080" stroke-width="0.6" />
<line x1="248.40" y1="417.41" x2="250.20" y2="417.41" stroke="#2a2080" stroke-width="0.5" />
<text transform="translate(9.60,388.80) rotate(-90) scale(1,1.05)" font-size="7.45" text-anchor="middle" fill="#1e1e1e">% TUNEL positive</text>
<rect x="47.30" y="346.50" width="3.90" height="3.80" fill="#a3284e" />
<text transform="translate(54.30,351.40) scale(1,1.08)" font-size="7.7" text-anchor="start" font-weight="normal" fill="#1e1e1e" >OCI-AML3</text>
<rect x="106.70" y="347.20" width="4.40" height="3.60" fill="#2f22a8" />
<text transform="translate(115.50,351.40) scale(1,1.08)" font-size="7.7" text-anchor="start" font-weight="normal" fill="#1e1e1e" >THP-1</text>
<text transform="translate(40.60,443.20) scale(1,1.08)" font-size="7.7" text-anchor="middle" font-weight="normal" fill="#1e1e1e" >Control</text>
<text transform="translate(73.60,443.20) scale(1,1.08)" font-size="7.7" text-anchor="middle" font-weight="normal" fill="#1e1e1e" >Arsenic</text>
<text transform="translate(73.60,452.45) scale(1,1.08)" font-size="7.7" text-anchor="middle" font-weight="normal" fill="#1e1e1e" >0.1 µM</text>
<text transform="translate(108.00,443.20) scale(1,1.08)" font-size="7.7" text-anchor="middle" font-weight="normal" fill="#1e1e1e" >RA</text>
<text transform="translate(108.00,452.45) scale(1,1.08)" font-size="7.7" text-anchor="middle" font-weight="normal" fill="#1e1e1e" >0.3 µM</text>
<text transform="translate(142.40,443.20) scale(1,1.08)" font-size="7.7" text-anchor="middle" font-weight="normal" fill="#1e1e1e" >Arsenic</text>
<text transform="translate(142.40,452.45) scale(1,1.08)" font-size="7.7" text-anchor="middle" font-weight="normal" fill="#1e1e1e" >0.1µM /</text>
<text transform="translate(142.40,461.70) scale(1,1.08)" font-size="7.7" text-anchor="middle" font-weight="normal" fill="#1e1e1e" >RA</text>
<text transform="translate(142.40,470.95) scale(1,1.08)" font-size="7.7" text-anchor="middle" font-weight="normal" fill="#1e1e1e" >0.3 µM</text>
<text transform="translate(177.60,443.20) scale(1,1.08)" font-size="7.7" text-anchor="middle" font-weight="normal" fill="#1e1e1e" >Arsenic</text>
<text transform="translate(177.60,452.45) scale(1,1.08)" font-size="7.7" text-anchor="middle" font-weight="normal" fill="#1e1e1e" >1 µM</text>
<text transform="translate(208.50,443.20) scale(1,1.08)" font-size="7.7" text-anchor="middle" font-weight="normal" fill="#1e1e1e" >RA</text>
<text transform="translate(208.50,452.45) scale(1,1.08)" font-size="7.7" text-anchor="middle" font-weight="normal" fill="#1e1e1e" >1 µM</text>
<text transform="translate(248.20,443.20) scale(1,1.08)" font-size="7.7" text-anchor="middle" font-weight="normal" fill="#1e1e1e" >Arsenic 1 µM/</text>
<text transform="translate(248.20,452.45) scale(1,1.08)" font-size="7.7" text-anchor="middle" font-weight="normal" fill="#1e1e1e" >RA 1 µM</text>
<line x1="342.50" y1="167.90" x2="342.50" y2="265.00" stroke="#444" stroke-width="1" />
<line x1="342.50" y1="264.50" x2="477.00" y2="264.50" stroke="#444" stroke-width="1" />
<line x1="340.70" y1="264.50" x2="342.50" y2="264.50" stroke="#444" stroke-width="0.8" />
<text transform="translate(339.50,266.40) scale(1,1.08)" font-size="7.5" text-anchor="end" font-weight="normal" fill="#1e1e1e" >0</text>
<line x1="340.70" y1="250.84" x2="342.50" y2="250.84" stroke="#444" stroke-width="0.8" />
<text transform="translate(339.50,252.74) scale(1,1.08)" font-size="7.5" text-anchor="end" font-weight="normal" fill="#1e1e1e" >10</text>
<line x1="340.70" y1="237.19" x2="342.50" y2="237.19" stroke="#444" stroke-width="0.8" />
<text transform="translate(339.50,239.09) scale(1,1.08)" font-size="7.5" text-anchor="end" font-weight="normal" fill="#1e1e1e" >20</text>
<line x1="340.70" y1="223.53" x2="342.50" y2="223.53" stroke="#444" stroke-width="0.8" />
<text transform="translate(339.50,225.43) scale(1,1.08)" font-size="7.5" text-anchor="end" font-weight="normal" fill="#1e1e1e" >30</text>
<line x1="340.70" y1="209.87" x2="342.50" y2="209.87" stroke="#444" stroke-width="0.8" />
<text transform="translate(339.50,211.77) scale(1,1.08)" font-size="7.5" text-anchor="end" font-weight="normal" fill="#1e1e1e" >40</text>
<line x1="340.70" y1="196.21" x2="342.50" y2="196.21" stroke="#444" stroke-width="0.8" />
<text transform="translate(339.50,198.11) scale(1,1.08)" font-size="7.5" text-anchor="end" font-weight="normal" fill="#1e1e1e" >50</text>
<line x1="340.70" y1="182.56" x2="342.50" y2="182.56" stroke="#444" stroke-width="0.8" />
<text transform="translate(339.50,184.46) scale(1,1.08)" font-size="7.5" text-anchor="end" font-weight="normal" fill="#1e1e1e" >60</text>
<line x1="340.70" y1="168.90" x2="342.50" y2="168.90" stroke="#444" stroke-width="0.8" />
<text transform="translate(339.50,170.80) scale(1,1.08)" font-size="7.5" text-anchor="end" font-weight="normal" fill="#1e1e1e" >70</text>
<line x1="343.00" y1="264.50" x2="343.00" y2="266.70" stroke="#444" stroke-width="0.8" />
<line x1="376.50" y1="264.50" x2="376.50" y2="266.70" stroke="#444" stroke-width="0.8" />
<line x1="410.00" y1="264.50" x2="410.00" y2="266.70" stroke="#444" stroke-width="0.8" />
<line x1="443.50" y1="264.50" x2="443.50" y2="266.70" stroke="#444" stroke-width="0.8" />
<line x1="477.00" y1="264.50" x2="477.00" y2="266.70" stroke="#444" stroke-width="0.8" />
<rect x="352.75" y="256.03" width="14.00" height="8.47" fill="#0a0a0a" />
<rect x="386.25" y="237.46" width="14.00" height="27.04" fill="#0a0a0a" />
<rect x="419.75" y="236.91" width="14.00" height="27.59" fill="#0a0a0a" />
<rect x="453.25" y="182.56" width="14.00" height="81.94" fill="#0a0a0a" />
<text transform="translate(358.45,275.70) scale(1,1.08)" font-size="7.7" text-anchor="middle" font-weight="normal" fill="#1e1e1e" >Control</text>
<text transform="translate(392.35,275.70) scale(1,1.08)" font-size="7.7" text-anchor="middle" font-weight="normal" fill="#1e1e1e" >Arsenic</text>
<text transform="translate(392.35,284.10) scale(1,1.08)" font-size="7.7" text-anchor="middle" font-weight="normal" fill="#1e1e1e" >1µM</text>
<text transform="translate(427.15,275.70) scale(1,1.08)" font-size="7.7" text-anchor="middle" font-weight="normal" fill="#1e1e1e" >RA 1µM</text>
<text transform="translate(468.25,275.70) scale(1,1.08)" font-size="7.7" text-anchor="middle" font-weight="normal" fill="#1e1e1e" >Arsenic 1µM/</text>
<text transform="translate(468.25,284.10) scale(1,1.08)" font-size="7.7" text-anchor="middle" font-weight="normal" fill="#1e1e1e" >RA 1µM</text>
<text transform="translate(417.00,170.00) scale(1,1.08)" font-size="7.7" text-anchor="middle" font-weight="normal" fill="#1e1e1e" >OCI AML-3</text>
<text transform="translate(321.90,216.00) rotate(-90) scale(1,1.0)" font-size="7.6" text-anchor="middle" fill="#1e1e1e">% CD11b positive</text>
<rect x="485.10" y="224.60" width="3.20" height="3.40" fill="#111" />
<text transform="translate(490.90,229.00) scale(1,1.08)" font-size="7.7" text-anchor="start" font-weight="normal" fill="#1e1e1e" >Day 2</text>
<text transform="translate(285.20,321.60) scale(1,1.08)" font-size="7.7" text-anchor="start" font-weight="normal" fill="#1e1e1e" >Arsenic 1µM</text>
<text transform="translate(295.20,338.40) scale(1,1.08)" font-size="7.7" text-anchor="start" font-weight="normal" fill="#1e1e1e" >RA 1µM</text>
<line x1="337.40" y1="319.20" x2="339.80" y2="319.20" stroke="#444" stroke-width="0.8" />
<line x1="337.40" y1="336.10" x2="339.80" y2="336.10" stroke="#444" stroke-width="0.8" />
<line x1="362.50" y1="319.20" x2="366.30" y2="319.20" stroke="#222" stroke-width="0.9" />
<line x1="364.40" y1="317.30" x2="364.40" y2="321.10" stroke="#222" stroke-width="0.9" />
<line x1="363.20" y1="336.10" x2="365.60" y2="336.10" stroke="#444" stroke-width="0.8" />
<line x1="385.10" y1="319.20" x2="387.50" y2="319.20" stroke="#444" stroke-width="0.8" />
<line x1="384.40" y1="336.10" x2="388.20" y2="336.10" stroke="#222" stroke-width="0.9" />
<line x1="386.30" y1="334.20" x2="386.30" y2="338.00" stroke="#222" stroke-width="0.9" />
<line x1="408.50" y1="319.20" x2="412.30" y2="319.20" stroke="#222" stroke-width="0.9" />
<line x1="410.40" y1="317.30" x2="410.40" y2="321.10" stroke="#222" stroke-width="0.9" />
<line x1="408.50" y1="336.10" x2="412.30" y2="336.10" stroke="#222" stroke-width="0.9" />
<line x1="410.40" y1="334.20" x2="410.40" y2="338.00" stroke="#222" stroke-width="0.9" />
<line x1="437.30" y1="319.20" x2="439.70" y2="319.20" stroke="#444" stroke-width="0.8" />
<line x1="437.30" y1="336.10" x2="439.70" y2="336.10" stroke="#444" stroke-width="0.8" />
<line x1="457.60" y1="319.20" x2="461.40" y2="319.20" stroke="#222" stroke-width="0.9" />
<line x1="459.50" y1="317.30" x2="459.50" y2="321.10" stroke="#222" stroke-width="0.9" />
<line x1="458.30" y1="336.10" x2="460.70" y2="336.10" stroke="#444" stroke-width="0.8" />
<line x1="482.30" y1="319.20" x2="484.70" y2="319.20" stroke="#444" stroke-width="0.8" />
<line x1="481.60" y1="336.10" x2="485.40" y2="336.10" stroke="#222" stroke-width="0.9" />
<line x1="483.50" y1="334.20" x2="483.50" y2="338.00" stroke="#222" stroke-width="0.9" />
<line x1="501.50" y1="319.20" x2="505.30" y2="319.20" stroke="#222" stroke-width="0.9" />
<line x1="503.40" y1="317.30" x2="503.40" y2="321.10" stroke="#222" stroke-width="0.9" />
<line x1="501.50" y1="336.10" x2="505.30" y2="336.10" stroke="#222" stroke-width="0.9" />
<line x1="503.40" y1="334.20" x2="503.40" y2="338.00" stroke="#222" stroke-width="0.9" />
<rect x="327.30" y="352.50" width="92.60" height="22.10" fill="#c3c3c3" />
<rect x="425.50" y="352.50" width="91.30" height="22.10" fill="#b9b9b9" />
<text transform="translate(316.20,367.35) scale(1,1.08)" font-size="7.7" text-anchor="end" font-weight="normal" fill="#1e1e1e" >p53</text>
<rect x="328.40" y="384.80" width="91.50" height="22.40" fill="#ababab" />
<rect x="425.10" y="384.80" width="91.10" height="22.40" fill="#a9a9a9" />
<text transform="translate(316.20,399.20) scale(1,1.08)" font-size="7.7" text-anchor="end" font-weight="normal" fill="#1e1e1e" >P-p53</text>
<rect x="328.40" y="417.70" width="91.30" height="18.50" fill="#b7b7b7" />
<rect x="425.50" y="417.70" width="90.70" height="18.50" fill="#b4b4b4" />
<text transform="translate(316.20,430.45) scale(1,1.08)" font-size="7.7" text-anchor="end" font-weight="normal" fill="#1e1e1e" >p21</text>
<rect x="327.80" y="446.40" width="91.90" height="19.60" fill="#bdbdbd" />
<rect x="425.50" y="446.40" width="90.70" height="19.60" fill="#bcbcbc" />
<text transform="translate(316.20,459.00) scale(1,1.08)" font-size="7.7" text-anchor="end" font-weight="normal" fill="#1e1e1e" >Actin</text>
<text transform="translate(378.60,481.20) scale(1,1.08)" font-size="7.7" text-anchor="middle" font-weight="normal" fill="#1e1e1e" >THP-1</text>
<text transform="translate(474.40,481.20) scale(1,1.08)" font-size="7.7" text-anchor="middle" font-weight="normal" fill="#1e1e1e" >OCI-AML3</text>
<rect x="427.25" y="361.40" width="17.50" height="3.20" rx="2.88" ry="1.60" fill="#111" opacity="0.5" filter="url(#blur3)"/>
<rect x="449.75" y="361.40" width="17.50" height="3.20" rx="2.88" ry="1.60" fill="#111" opacity="0.46" filter="url(#blur3)"/>
<rect x="472.65" y="361.00" width="18.50" height="3.80" rx="3.42" ry="1.90" fill="#111" opacity="0.68" filter="url(#blur3)"/>
<rect x="495.75" y="360.80" width="20.50" height="4.00" rx="3.60" ry="2.00" fill="#111" opacity="0.72" filter="url(#blur3)"/>
<rect x="328.40" y="393.20" width="91.50" height="2.40" fill="#000" opacity="0.04" filter="url(#blur2)"/>
<rect x="328.75" y="393.30" width="4.50" height="2.20" rx="1.98" ry="1.10" fill="#111" opacity="0.16" filter="url(#blur2)"/>
<rect x="344.05" y="393.30" width="4.50" height="2.20" rx="1.98" ry="1.10" fill="#111" opacity="0.16" filter="url(#blur2)"/>
<rect x="355.15" y="393.30" width="4.50" height="2.20" rx="1.98" ry="1.10" fill="#111" opacity="0.16" filter="url(#blur2)"/>
<rect x="367.25" y="393.30" width="4.50" height="2.20" rx="1.98" ry="1.10" fill="#111" opacity="0.16" filter="url(#blur2)"/>
<rect x="379.45" y="393.30" width="4.50" height="2.20" rx="1.98" ry="1.10" fill="#111" opacity="0.16" filter="url(#blur2)"/>
<rect x="389.75" y="393.30" width="4.50" height="2.20" rx="1.98" ry="1.10" fill="#111" opacity="0.16" filter="url(#blur2)"/>
<rect x="401.75" y="393.30" width="4.50" height="2.20" rx="1.98" ry="1.10" fill="#111" opacity="0.16" filter="url(#blur2)"/>
<rect x="328.7" y="385.1" width="90.9" height="21.8" fill="none" stroke="#777" stroke-width="0.6" opacity="0.5"/>
<rect x="430.40" y="394.10" width="6.00" height="2.60" rx="2.34" ry="1.30" fill="#111" opacity="0.4" filter="url(#blur)"/>
<rect x="475.15" y="393.80" width="16.50" height="3.80" rx="3.42" ry="1.90" fill="#111" opacity="0.55" filter="url(#blur)"/>
<rect x="483.00" y="394.00" width="8.00" height="3.40" rx="3.06" ry="1.70" fill="#111" opacity="0.25" filter="url(#blur)"/>
<rect x="495.90" y="391.90" width="18.00" height="6.80" rx="6.12" ry="3.40" fill="#111" opacity="1.0" filter="url(#blur)"/>
<rect x="353.80" y="428.90" width="13.50" height="2.60" rx="2.34" ry="1.30" fill="#111" opacity="0.12" filter="url(#blur2)"/>
<rect x="378.80" y="428.90" width="11.60" height="2.60" rx="2.34" ry="1.30" fill="#111" opacity="0.12" filter="url(#blur2)"/>
<rect x="401.00" y="428.90" width="8.60" height="2.60" rx="2.34" ry="1.30" fill="#111" opacity="0.12" filter="url(#blur2)"/>
<rect x="428.80" y="427.20" width="16.00" height="2.40" rx="2.16" ry="1.20" fill="#111" opacity="0.25" filter="url(#blur2)"/>
<rect x="452.40" y="426.80" width="16.00" height="2.80" rx="2.52" ry="1.40" fill="#111" opacity="0.38" filter="url(#blur2)"/>
<rect x="475.90" y="426.60" width="16.00" height="2.40" rx="2.16" ry="1.20" fill="#111" opacity="0.28" filter="url(#blur2)"/>
<rect x="498.45" y="425.90" width="16.50" height="3.00" rx="2.70" ry="1.50" fill="#111" opacity="0.9" filter="url(#blur)"/>
<rect x="502.00" y="420.25" width="12.00" height="2.50" rx="2.25" ry="1.25" fill="#111" opacity="0.2" filter="url(#blur2)"/>
<rect x="329.40" y="455.00" width="20.00" height="5.60" rx="5.04" ry="2.80" fill="#111" opacity="1.0" filter="url(#blur)"/>
<rect x="354.10" y="455.95" width="19.00" height="3.90" rx="3.51" ry="1.95" fill="#111" opacity="0.95" filter="url(#blur)"/>
<rect x="377.15" y="455.95" width="18.50" height="3.90" rx="3.51" ry="1.95" fill="#111" opacity="0.95" filter="url(#blur)"/>
<rect x="401.50" y="456.15" width="17.00" height="3.70" rx="3.33" ry="1.85" fill="#111" opacity="0.95" filter="url(#blur)"/>
<rect x="429.45" y="456.45" width="19.50" height="3.90" rx="3.51" ry="1.95" fill="#111" opacity="0.95" filter="url(#blur)"/>
<rect x="452.30" y="456.65" width="20.00" height="3.90" rx="3.51" ry="1.95" fill="#111" opacity="0.95" filter="url(#blur)"/>
<rect x="475.35" y="456.65" width="18.50" height="3.90" rx="3.51" ry="1.95" fill="#111" opacity="0.95" filter="url(#blur)"/>
<rect x="498.45" y="456.65" width="18.50" height="3.90" rx="3.51" ry="1.95" fill="#111" opacity="0.95" filter="url(#blur)"/>
</svg>
</body></html>
